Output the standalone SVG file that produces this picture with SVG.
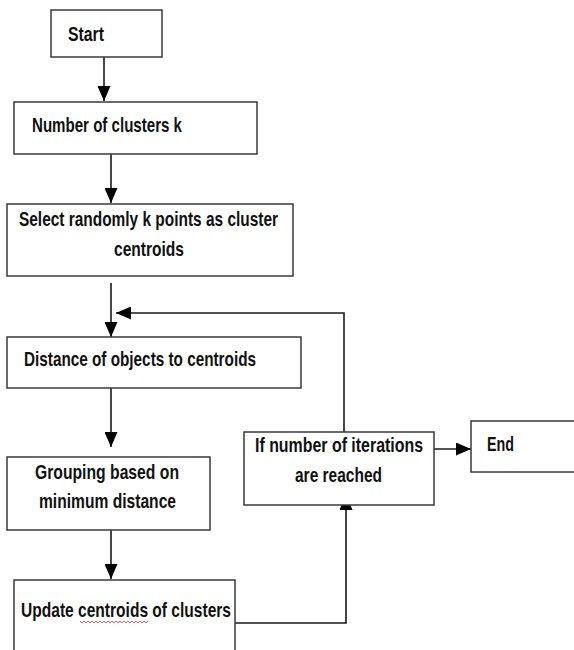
<svg xmlns="http://www.w3.org/2000/svg" width="574" height="650" viewBox="0 0 574 650">
<style>
.box{fill:#fff;stroke:#3a3a3a;stroke-width:1.5}
.t{font-family:'Liberation Sans Narrow','Liberation Sans',Arial,sans-serif;font-weight:bold;font-size:20.5px;fill:#111}
.c{fill:none;stroke:#1a1a1a;stroke-width:1.6}
</style>
<defs>
<marker id="ah" markerUnits="userSpaceOnUse" markerWidth="16" markerHeight="13" refX="15" refY="6.5" orient="auto">
<path d="M0,0 L15,6.5 L0,13 Z" fill="#000"/>
</marker>
</defs>
<rect width="574" height="650" fill="#fff"/>
<g id="connectors">
<line class="c" x1="104" y1="57" x2="104" y2="101" marker-end="url(#ah)"/>
<line class="c" x1="111" y1="154" x2="111" y2="203" marker-end="url(#ah)"/>
<line class="c" x1="111" y1="283" x2="111" y2="337" marker-end="url(#ah)"/>
<polyline class="c" points="344,432 344,313 116,313" marker-end="url(#ah)"/>
<line class="c" x1="111" y1="388" x2="111" y2="447" marker-end="url(#ah)"/>
<line class="c" x1="111" y1="530" x2="111" y2="579" marker-end="url(#ah)"/>
<polyline class="c" points="235,623 346,623 346,495" marker-end="url(#ah)"/>
<line class="c" x1="434" y1="449" x2="471" y2="449" marker-end="url(#ah)"/>
</g>
<g id="start">
<rect class="box" x="51" y="10" width="111" height="47"/>
<text class="t" x="68" y="41" textLength="36" lengthAdjust="spacingAndGlyphs">Start</text>
</g>
<g id="num-clusters">
<rect class="box" x="14" y="102" width="243" height="52"/>
<text class="t" x="32" y="132" textLength="150" lengthAdjust="spacingAndGlyphs">Number of clusters k</text>
</g>
<g id="select">
<rect class="box" x="7" y="204" width="286" height="72"/>
<text class="t" x="19" y="226" textLength="259" lengthAdjust="spacingAndGlyphs">Select randomly k points as cluster</text>
<text class="t" x="114" y="256" textLength="70" lengthAdjust="spacingAndGlyphs">centroids</text>
</g>
<g id="distance">
<rect class="box" x="7" y="337" width="294" height="51"/>
<text class="t" x="24" y="366" textLength="232" lengthAdjust="spacingAndGlyphs">Distance of objects to centroids</text>
</g>
<g id="grouping">
<rect class="box" x="7" y="457" width="203" height="73"/>
<text class="t" x="35" y="479" textLength="144" lengthAdjust="spacingAndGlyphs">Grouping based on</text>
<text class="t" x="39" y="508" textLength="137" lengthAdjust="spacingAndGlyphs">minimum distance</text>
</g>
<g id="update">
<rect class="box" x="14" y="580" width="221" height="80"/>
<text class="t" x="21" y="617" textLength="210" lengthAdjust="spacingAndGlyphs">Update centroids of clusters</text>
<path d="M80,621 l2,2 l2,-2 l2,2 l2,-2 l2,2 l2,-2 l2,2 l2,-2 l2,2 l2,-2 l2,2 l2,-2 l2,2 l2,-2 l2,2 l2,-2 l2,2 l2,-2 l2,2 l2,-2 l2,2 l2,-2 l2,2 l2,-2 l2,2 l2,-2 l2,2 l2,-2 l2,2 l2,-2 l2,2 l2,-2 l2,2 l2,-2" fill="none" stroke="#e03030" stroke-width="0.8"/>
</g>
<g id="decision">
<rect class="box" x="244" y="432" width="190" height="73"/>
<text class="t" x="255" y="452" textLength="168" lengthAdjust="spacingAndGlyphs">If number of iterations</text>
<text class="t" x="295" y="482" textLength="87" lengthAdjust="spacingAndGlyphs">are reached</text>
</g>
<g id="end">
<rect class="box" x="471" y="421" width="110" height="51"/>
<text class="t" x="487" y="451" textLength="27" lengthAdjust="spacingAndGlyphs">End</text>
</g>
</svg>
